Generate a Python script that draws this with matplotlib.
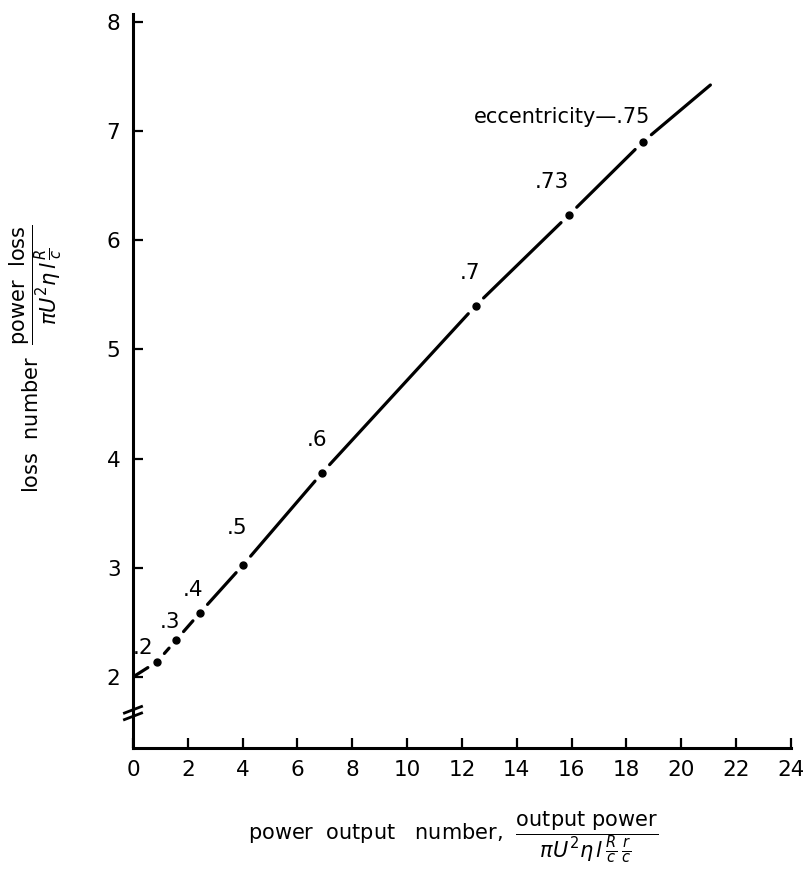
import numpy as np
import matplotlib
matplotlib.use("Agg")
import matplotlib.pyplot as plt
from matplotlib.transforms import blended_transform_factory

# ---- data ----
eccentricity = ['.2', '.3', '.4', '.5', '.6', '.7', '.73', '.75']
power_output = [0.88, 1.58, 2.45, 4.03, 6.90, 12.50, 15.90, 18.60]
loss_number = [2.14, 2.34, 2.59, 3.03, 3.87, 5.40, 6.23, 6.90]
line_start = (0.0, 2.0)
line_end = (21.06, 7.42)
label_x = [0.37, 1.36, 2.20, 3.80, 6.70, 12.30, 15.27, 18.85]
label_y = [2.27, 2.50, 2.80, 3.36, 4.17, 5.70, 6.53, 7.13]
xticks = list(range(0, 25, 2))
yticks = list(range(2, 9))

plt.rcParams['font.family'] = ['DejaVu Sans']
plt.rcParams['mathtext.fontset'] = 'dejavusans'

fig = plt.figure(figsize=(8.04, 8.88), dpi=100)
ax = fig.add_axes([133 / 804, 1 - 748 / 888, (791 - 133) / 804, (748 - 14) / 888])
ax.set_xlim(0, 24)
ax.set_ylim(1.35, 8.07)

for s in ['top', 'right']:
    ax.spines[s].set_visible(False)
for s in ['left', 'bottom']:
    ax.spines[s].set_linewidth(2.2)

ax.set_xticks(xticks)
ax.set_yticks(yticks)
ax.tick_params(direction='in', length=7, width=1.6, labelsize=15.5, pad=9)

# ---- curve: segments with gaps at the eccentricity dots ----
px = [line_start[0]] + power_output + [line_end[0]]
py = [line_start[1]] + loss_number + [line_end[1]]
disp = ax.transData.transform(np.column_stack([px, py]))
inv = ax.transData.inverted()
gap = 11.0
n = len(px)
for i in range(n - 1):
    p0, p1 = disp[i], disp[i + 1]
    d = p1 - p0
    L = np.hypot(*d)
    u = d / L
    a = p0 + (u * gap if i > 0 else 0)
    b = p1 - (u * gap if i + 1 < n - 1 else 0)
    seg = inv.transform(np.vstack([a, b]))
    ax.plot(seg[:, 0], seg[:, 1], color='black', lw=2.3, solid_capstyle='round')
ax.plot(power_output, loss_number, 'o', color='black', ms=5)

# ---- labels ----
for i, (lab, lx, ly) in enumerate(zip(eccentricity, label_x, label_y)):
    if i == len(eccentricity) - 1:
        ax.text(lx, ly, 'eccentricity\u2014' + lab, ha='right', va='center', fontsize=15)
    else:
        ax.text(lx, ly, lab, ha='center', va='center', fontsize=15.5)

# ---- axis break on y axis ----
tr = blended_transform_factory(ax.transAxes, ax.transData)
for yb in (1.64, 1.70):
    ax.plot([-0.013, 0.013], [yb - 0.03, yb + 0.03], color='black', lw=2,
            transform=tr, clip_on=False)

ax.set_ylabel(r'loss  number  $\dfrac{\mathrm{power\ \ loss}}{\pi U^2 \eta\, l\, \frac{R}{c}}$',
              fontsize=15)
ax.yaxis.set_label_coords(-0.105, 0.53)
ax.set_xlabel(r'power  output   number,  $\dfrac{\mathrm{output\ power}}{\pi U^2 \eta\, l\, \frac{R}{c}\, \frac{r}{c}}$',
              fontsize=15)
ax.xaxis.set_label_coords(0.487, -0.083)

fig.savefig('out.png', dpi=100)
